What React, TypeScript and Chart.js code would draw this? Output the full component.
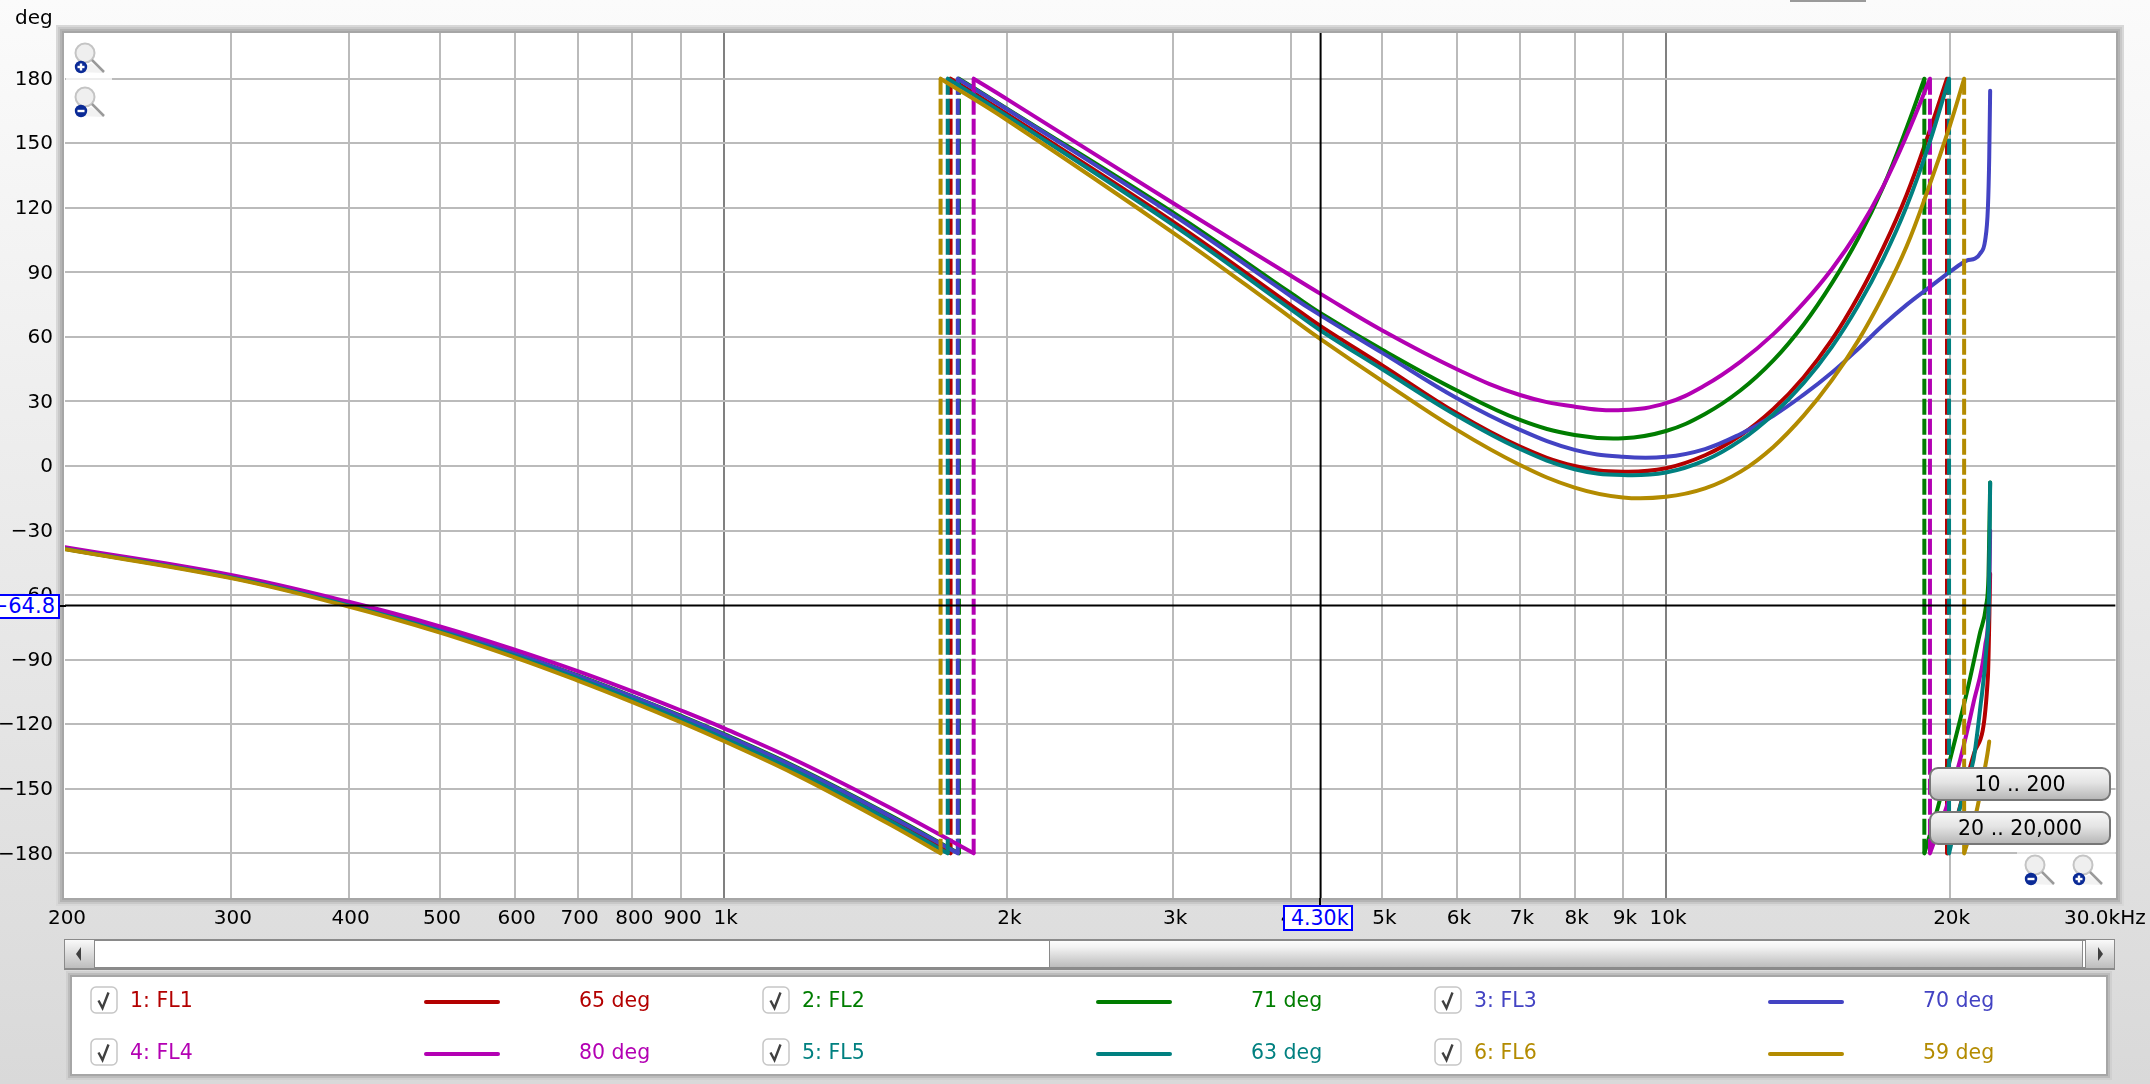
import React, { useEffect, useRef } from "react";
import { Chart, registerables } from "chart.js";

Chart.register(...registerables);

const FONT = '"DejaVu Sans", sans-serif';

// axes
const xTickValues = [200, 300, 400, 500, 600, 700, 800, 900, 1000, 2000, 3000, 4000, 5000, 6000, 7000, 8000, 9000, 10000, 20000, 30000];
const xTickLabels = ["200", "300", "400", "500", "600", "700", "800", "900", "1k", "2k", "3k", "4k", "5k", "6k", "7k", "8k", "9k", "10k", "20k", "30.0kHz\u00a0\u00a0\u00a0\u00a0"];
const yTickValues = [180, 150, 120, 90, 60, 30, 0, -30, -60, -90, -120, -150, -180];

// cursor readout
const cursorFreq = 4300;
const cursorFreqLabel = "4.30k";
const cursorDeg = -64.8;
const cursorDegLabel = "\u221264.8";

// first branch, common frequencies
const lowFreqs = [200, 300, 400, 500, 600, 700, 800, 900, 1000, 1200, 1500];
const fl1Low = [-38.4, -51.7, -64.6, -76.5, -87.8, -98.4, -108.2, -117.4, -126, -142, -164.2];
const fl2Low = [-38.2, -51.3, -64.1, -75.8, -86.9, -97.3, -107, -116, -124.5, -140.3, -162.2];
const fl3Low = [-38.2, -51.4, -64.2, -76, -87.1, -97.5, -107.2, -116.3, -124.8, -140.7, -162.6];
const fl4Low = [-37.7, -50.6, -63.1, -74.5, -85.3, -95.3, -104.7, -113.5, -121.8, -137.3, -158.7];
const fl5Low = [-38.5, -51.8, -64.8, -76.8, -88.1, -98.7, -108.6, -117.8, -126.5, -142.5, -164.8];
const fl6Low = [-38.7, -52.1, -65.3, -77.4, -88.9, -99.7, -109.7, -119, -127.8, -144, -166.5];

// frequencies of the phase wraps (-180 to +180)
const fl1Wraps = [1741, 19870];
const fl2Wraps = [1777, 18800];
const fl3Wraps = [1772];
const fl4Wraps = [1842, 19060];
const fl5Wraps = [1729, 19970];
const fl6Wraps = [1699, 20720];

// second branch
const midFreqs = [2000, 3000, 4000, 4300, 5000, 6000, 7000, 8000, 9000, 10000, 11000, 12000, 13000, 14000, 15000, 16000, 17000, 18000, 19000, 20000];
const fl1Mid = [163.5, 113.5, 74.7, 65, 46.8, 24.5, 9, 0, -2.6, -1, 5, 14.3, 26.5, 41.3, 58.7, 78.9, 101.4, 126, 154.5];
const fl2Mid = [166, 117.7, 80.3, 71, 54, 35.1, 21.4, 14.4, 12.9, 16.3, 24.2, 35.2, 49.1, 65.8, 85, 106, 129.7, 157];
const fl3Mid = [165.7, 116.6, 78.9, 70, 52.6, 31.5, 16.8, 7.5, 4.3, 4.3, 7.9, 14.9, 23.4, 33.2, 43.5, 54.5, 65.5, 74.9, 82.8, 90.2];
const fl4Mid = [170.4, 122.1, 88.4, 80, 63, 45, 33, 27.6, 26, 29.2, 37.5, 48.5, 61.3, 75.8, 91.6, 109.4, 130, 153.5];
const fl5Mid = [162.6, 112, 72.8, 63, 45, 23.4, 7.9, -1.5, -4.2, -3, 2.6, 11.9, 24.1, 38.6, 55.4, 74.7, 96.3, 120.6, 149];
const fl6Mid = [160.7, 108.4, 68.9, 59, 39.5, 16.8, 0.5, -10, -14.6, -14.3, -10.4, -2.6, 8.9, 23.4, 39.9, 58.4, 79.2, 102, 129.4, 157.9];

// FL3 never wraps a second time: it bends up and stops
const fl3TailFreqs = [20000, 20850, 21280, 21540, 21810, 21960, 22030, 22080];
const fl3Tail = [90.2, 95.5, 96.4, 98.7, 104.8, 120.2, 143.4, 174.4];

// third branch, after the second wrap
const fl1HighFreqs = [20520, 21250, 21960, 22080];
const fl1High = [-158, -133, -97.7, -50];
const fl2HighFreqs = [19450, 20100, 20850, 21540, 21860, 21990, 22080];
const fl2High = [-158, -133.4, -105.5, -77.5, -65, -51, -7.6];
const fl4HighFreqs = [19860, 20520, 21200, 21810, 22030, 22080];
const fl4High = [-158, -136.5, -110, -83.7, -58.9, -30];
const fl5HighFreqs = [20520, 21200, 21540, 21900, 22020, 22080];
const fl5High = [-158.3, -136.5, -113.2, -82.2, -58.9, -7.6];
const fl6HighFreqs = [21370, 21720, 21940, 22030];
const fl6High = [-160, -144, -133.4, -128];

// legend
const seriesNames = ["1: FL1", "2: FL2", "3: FL3", "4: FL4", "5: FL5", "6: FL6"];
const seriesColors = ["#b30000", "#007d00", "#4343c3", "#b300b3", "#008080", "#b38b00"];
const seriesLegendValues = ["65 deg", "71 deg", "70 deg", "80 deg", "63 deg", "59 deg"];

const zip = (xs: number[], ys: number[]) => ys.map((y, i) => ({ x: xs[i], y }));

const seriesBranches = [
  { low: fl1Low, wraps: fl1Wraps, mid: zip(midFreqs, fl1Mid), highF: fl1HighFreqs, high: fl1High },
  { low: fl2Low, wraps: fl2Wraps, mid: zip(midFreqs, fl2Mid), highF: fl2HighFreqs, high: fl2High },
  { low: fl3Low, wraps: fl3Wraps, mid: zip(midFreqs, fl3Mid), highF: [], high: [] },
  { low: fl4Low, wraps: fl4Wraps, mid: zip(midFreqs, fl4Mid), highF: fl4HighFreqs, high: fl4High },
  { low: fl5Low, wraps: fl5Wraps, mid: zip(midFreqs, fl5Mid), highF: fl5HighFreqs, high: fl5High },
  { low: fl6Low, wraps: fl6Wraps, mid: zip(midFreqs, fl6Mid), highF: fl6HighFreqs, high: fl6High },
];

function buildDatasets() {
  const out: any[] = [];
  seriesBranches.forEach((s, i) => {
    const color = seriesColors[i];
    const order = 6 - i;
    const base = {
      order,
      borderColor: color,
      borderWidth: 4,
      pointRadius: 0,
      borderCapStyle: "round",
      borderJoinStyle: "round",
    };
    const smooth = (label: string, data: { x: number; y: number }[]) => ({ ...base, label, data, tension: 0.4 });
    const steep = (label: string, data: { x: number; y: number }[]) => ({ ...base, label, data, cubicInterpolationMode: "monotone" });
    const dashed = (label: string, f: number) => ({
      ...base,
      label,
      data: [{ x: f, y: 180 }, { x: f, y: -180 }],
      borderDash: [16, 4],
      borderCapStyle: "butt",
    });
    const name = seriesNames[i];
    const [w1, w2] = s.wraps;
    out.push(smooth(name, [...zip(lowFreqs, s.low), { x: w1, y: -180 }]));
    out.push(dashed(name + " wrap", w1));
    const mid = [{ x: w1, y: 180 }, ...s.mid];
    if (w2 !== undefined) {
      mid.push({ x: w2, y: 180 });
      out.push(dashed(name + " wrap", w2));
      out.push(steep(name, [{ x: w2, y: -180 }, ...zip(s.highF, s.high)]));
    } else {
      out.push(steep(name, zip(fl3TailFreqs, fl3Tail)));
    }
    out.push(smooth(name, mid));
  });
  const cursor = (label: string, data: { x: number; y: number }[]) => ({
    label,
    data,
    order: 0,
    borderColor: "#000000",
    borderWidth: 2,
    pointRadius: 0,
  });
  out.push(cursor("cursor f", [{ x: cursorFreq, y: -201 }, { x: cursorFreq, y: 202 }]));
  out.push(cursor("cursor deg", [{ x: 200, y: cursorDeg }, { x: 30000, y: cursorDeg }]));
  return out;
}

const abs = (left: number, top: number, width: number, height: number, extra: React.CSSProperties = {}): React.CSSProperties => ({
  position: "absolute",
  left,
  top,
  width,
  height,
  boxSizing: "border-box",
  ...extra,
});

function ZoomIcon({ left, top, plus }: { left: number; top: number; plus: boolean }) {
  return (
    <svg style={{ position: "absolute", left, top }} width={36} height={36} viewBox="0 0 36 36">
      <path d="M6 31 L20 22 L34 32 Z" fill="#f2f2f2" />
      <circle cx={14} cy={12} r={9.5} fill="#efefef" stroke="#c4c4c4" strokeWidth={2} />
      <line x1={21} y1={19} x2={33} y2={31} stroke="#9a9a9a" strokeWidth={2.5} />
      <circle cx={10} cy={26} r={6.2} fill="#0a2a96" />
      <line x1={6.5} y1={26} x2={13.5} y2={26} stroke="#fff" strokeWidth={2.4} />
      {plus && <line x1={10} y1={22.5} x2={10} y2={29.5} stroke="#fff" strokeWidth={2.4} />}
    </svg>
  );
}

function Button({ top, text }: { top: number; text: string }) {
  return (
    <div
      style={abs(1929, top, 182, 34, {
        border: "2px solid #777",
        borderRadius: 9,
        background: "linear-gradient(#f6f6f6, #e4e4e4 45%, #b8b8b8)",
        textAlign: "center",
        lineHeight: "30px",
        fontSize: 20.5,
        color: "#000",
      })}
    >
      {text}
    </div>
  );
}

const checkColumns = [90, 762, 1434];
const legendRows = [986, 1038];

function LegendEntry({ index }: { index: number }) {
  const col = checkColumns[index % 3];
  const top = legendRows[Math.floor(index / 3)];
  const color = seriesColors[index];
  const text: React.CSSProperties = { color, fontSize: 20.5, lineHeight: "28px", whiteSpace: "nowrap" };
  return (
    <>
      <svg style={{ position: "absolute", left: col, top }} width={28} height={28} viewBox="0 0 28 28">
        <rect x={1} y={1} width={26} height={26} rx={5} fill="#fff" stroke="#c6c6c6" strokeWidth={1.5} />
        <path d="M8.5 14.5 L12.5 22 L18.5 6.5" fill="none" stroke="#404040" strokeWidth={2.4} />
      </svg>
      <div style={{ ...abs(col + 40, top, 200, 28), ...text }}>{seriesNames[index]}</div>
      <div style={abs(col + 334, top + 14, 76, 4, { background: color, borderRadius: 2 })} />
      <div style={{ ...abs(col + 489, top, 120, 28), ...text }}>{seriesLegendValues[index]}</div>
    </>
  );
}

export default function App() {
  const canvasRef = useRef<HTMLCanvasElement>(null);

  useEffect(() => {
    const canvas = canvasRef.current!;
    const chart = new Chart(canvas, {
      type: "line",
      data: { datasets: buildDatasets() },
      options: {
        animation: false,
        responsive: false,
        devicePixelRatio: 1,
        parsing: true,
        layout: { padding: { left: 0, top: 33, right: 34.4, bottom: 0 } },
        font: { family: FONT, size: 20 },
        plugins: { legend: { display: false }, tooltip: { enabled: false } },
        scales: {
          x: {
            type: "logarithmic",
            min: 200,
            max: 30000,
            border: { display: false },
            afterBuildTicks: (s: any) => {
              s.ticks = xTickValues.map((value) => ({ value }));
            },
            afterFit: (s: any) => {
              s.height = 186;
              s.paddingLeft = 0;
              s.paddingRight = 0;
            },
            grid: {
              drawTicks: false,
              lineWidth: 2,
              color: (c: any) => {
                const v = c.tick?.value;
                if (v === 200 || v === 30000) return "rgba(0,0,0,0)";
                return v === 1000 || v === 10000 ? "#808080" : "#bbbbbb";
              },
            },
            ticks: {
              autoSkip: false,
              maxRotation: 0,
              minRotation: 0,
              padding: 9,
              labelOffset: 2,
              color: "#000",
              font: { family: FONT, size: 20 },
              callback: (_v: any, i: number) => xTickLabels[i],
            },
          },
          y: {
            type: "linear",
            min: -200.75,
            max: 201.25,
            border: { display: false },
            afterBuildTicks: (s: any) => {
              s.ticks = yTickValues.map((value) => ({ value }));
            },
            afterFit: (s: any) => {
              s.width = 65;
              s.paddingTop = 0;
              s.paddingBottom = 0;
            },
            grid: { drawTicks: false, lineWidth: 2, color: "#bbbbbb" },
            ticks: {
              autoSkip: false,
              padding: 12,
              labelOffset: 1,
              color: "#000",
              font: { family: FONT, size: 20 },
              callback: (v: any) => String(v).replace("-", "\u2212"),
            },
          },
        },
      } as any,
    });
    return () => chart.destroy();
  }, []);

  return (
    <div
      style={{
        position: "fixed",
        left: 0,
        top: 0,
        width: 2150,
        height: 1084,
        overflow: "hidden",
        fontFamily: FONT,
        background: "linear-gradient(#fbfbfb, #d9d9d9)",
      }}
    >
      <div style={abs(1790, 0, 76, 2, { background: "#9a9a9a" })} />
      {/* plot frame */}
      <div
        style={abs(64, 33, 2052, 865, {
          background: "#fff",
          boxShadow: "0 0 0 2px #a6a6a6, 0 0 0 4px #b4b4b4, 0 0 0 6px #c8c8c8, 0 0 0 8px #d8d8d8",
        })}
      />
      <canvas ref={canvasRef} width={2150} height={1084} style={{ position: "absolute", left: 0, top: 0, display: "block" }} />

      <div style={abs(15, 4, 60, 26, { fontSize: 20, lineHeight: "26px", color: "#000" })}>deg</div>

      {/* zoom icons */}
      <div style={abs(66, 77, 46, 3, { background: "rgba(255,255,255,0.75)" })} />
      <div style={abs(2017, 852, 98, 3, { background: "rgba(255,255,255,0.6)" })} />
      <ZoomIcon left={71} top={41} plus />
      <ZoomIcon left={71} top={85} plus={false} />
      <ZoomIcon left={2021} top={853} plus={false} />
      <ZoomIcon left={2069} top={853} plus />

      <Button top={767} text="10 .. 200" />
      <Button top={811} text="20 .. 20,000" />

      {/* cursor readouts */}
      <div style={abs(1319, 898, 2, 8, { background: "#000" })} />
      <div style={abs(60, 605, 6, 2, { background: "#000" })} />
      <div
        style={abs(1283, 905, 70, 26, {
          border: "2px solid #0000ff",
          background: "#fff",
          color: "#0000ff",
          fontSize: 20.5,
          lineHeight: "22px",
          paddingLeft: 6,
          whiteSpace: "nowrap",
        })}
      >
        {cursorFreqLabel}
      </div>
      <div
        style={abs(0, 594, 60, 25, {
          border: "2px solid #0000ff",
          borderLeft: "none",
          background: "#fff",
          color: "#0000ff",
          fontSize: 21,
          lineHeight: "21px",
          overflow: "hidden",
          whiteSpace: "nowrap",
        })}
      >
        <span style={{ position: "absolute", right: 3, top: 0 }}>{cursorDegLabel}</span>
      </div>

      {/* scrollbar */}
      <div style={abs(64, 939, 2050, 31, { background: "#fff", borderTop: "2px solid #8a8a8a", borderBottom: "3px solid #8a8a8a" })} />
      <div style={abs(64, 939, 31, 31, { background: "linear-gradient(#fafafa,#bdbdbd)", border: "1px solid #8a8a8a", borderBottomWidth: 2 })}>
        <svg width={29} height={28} style={{ display: "block" }}>
          <path d="M11 14 L16 7 L16 21 Z" fill="#404040" />
        </svg>
      </div>
      <div style={abs(1049, 939, 1034, 31, { background: "linear-gradient(#fdfdfd,#f2f2f2 25%,#bcbcbc)", border: "1px solid #8a8a8a", borderBottomWidth: 3, borderTopWidth: 2 })} />
      <div style={abs(2085, 939, 30, 31, { background: "linear-gradient(#fafafa,#bdbdbd)", border: "1px solid #8a8a8a", borderBottomWidth: 2 })}>
        <svg width={28} height={28} style={{ display: "block" }}>
          <path d="M17 14 L12 7 L12 21 Z" fill="#404040" />
        </svg>
      </div>

      {/* legend */}
      <div
        style={abs(72, 977, 2034, 97, {
          background: "#fff",
          boxShadow: "0 0 0 2px #a6a6a6, 0 0 0 4px #bcbcbc, 0 0 0 6px #d0d0d0",
        })}
      />
      {seriesNames.map((_, i) => (
        <LegendEntry key={i} index={i} />
      ))}
    </div>
  );
}
